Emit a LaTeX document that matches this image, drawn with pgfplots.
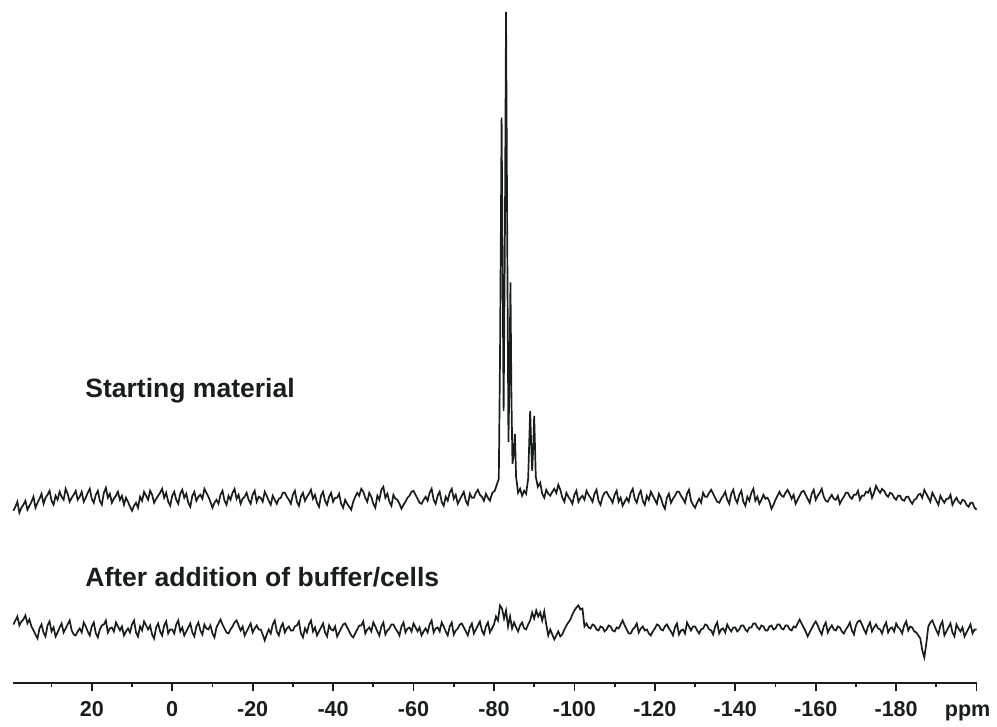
\documentclass[border=0pt]{standalone}
\usepackage{pgfplots}
\pgfplotsset{compat=1.18}
\usepackage{fontspec}
\setmainfont{Liberation Sans}
\definecolor{trace}{RGB}{24,30,28}

\begin{document}
\begin{tikzpicture}
\begin{axis}[
    scale only axis,
    width=483pt, height=342.5pt,
    xmin=-200, xmax=39.6,
    ymin=0, ymax=685,
    x dir=reverse, y dir=reverse,
    axis x line=bottom, axis y line=none,
    x axis line style={-, line width=1pt, color=trace},
    xtick={-180,-160,...,20},
    xticklabels={-180,-160,-140,-120,-100,-80,-60,-40,-20,0,20},
    minor xtick={-190,-170,...,30},
    extra x ticks={-200},
    extra x tick labels={ppm},
    extra x tick style={tick label style={xshift=-4.5pt}},
    tick align=outside,
    major tick length=4pt, minor tick length=2pt,
    every tick/.style={line width=0.9pt, color=trace},
    tick label style={font=\bfseries\fontsize{10.8}{12}\selectfont, text height=8pt, text depth=2pt, color=trace, yshift=-1pt},
    clip=false,
]
% Starting material (values in pixel rows of the original picture)
\addplot[trace, line width=0.85pt] coordinates {
(39.5,512)(39,508)(38.5,503)(38,514)(37.5,509)(37,506)(36.5,502)(36,511)(35.5,507)(35,503)
(34.5,498)(34,509)(33.5,504)(33,500)(32.5,495)(32,505)(31.5,499)(31,496)(30.5,492)(30,502)
(29.5,506)(29,497)(28.5,501)(28,493)(27.5,498)(27,501)(26.5,490)(26,495)(25.5,503)(25,499)
(24.5,496)(24,492)(23.5,501)(23,498)(22.5,493)(22,503)(21.5,499)(21,494)(20.5,490)(20,500)
(19.5,504)(19,496)(18.5,492)(18,502)(17.5,506)(17,494)(16.5,489)(16,499)(15.5,495)(15,504)
(14.5,500)(14,497)(13.5,493)(13,501)(12.5,497)(12,506)(11.5,499)(11,503)(10.5,508)(10,512)
(9.5,507)(9,504)(8.5,509)(8,498)(7.5,502)(7,493)(6.5,497)(6,501)(5.5,492)(5,496)
(4.5,504)(4,500)(3.5,497)(3,494)(2.5,490)(2,499)(1.5,494)(1,503)(0.5,507)(0,497)
(-0.5,493)(-1,501)(-1.5,505)(-2,495)(-2.5,491)(-3,499)(-3.5,495)(-4,504)(-4.5,508)(-5,497)
(-5.5,493)(-6,502)(-6.5,498)(-7,496)(-7.5,500)(-8,490)(-8.5,494)(-9,498)(-9.5,503)(-10,509)
(-10.5,504)(-11,501)(-11.5,505)(-12,496)(-12.5,492)(-13,502)(-13.5,506)(-14,497)(-14.5,501)(-15,494)
(-15.5,490)(-16,500)(-16.5,496)(-17,505)(-17.5,500)(-18,498)(-18.5,494)(-19,501)(-19.5,505)(-20,496)
(-20.5,492)(-21,503)(-21.5,498)(-22,499)(-22.5,503)(-23,493)(-23.5,497)(-24,502)(-24.5,506)(-25,497)
(-25.5,501)(-26,505)(-26.5,500)(-27,499)(-27.5,494)(-28,494)(-28.5,498)(-29,501)(-29.5,505)(-30,496)
(-30.5,492)(-31,503)(-31.5,507)(-32,498)(-32.5,494)(-33,502)(-33.5,498)(-34,495)(-34.5,491)(-35,500)
(-35.5,496)(-36,504)(-36.5,508)(-37,497)(-37.5,493)(-38,502)(-38.5,506)(-39,498)(-39.5,494)(-40,503)
(-40.5,499)(-41,499)(-41.5,495)(-42,505)(-42.5,509)(-43,501)(-43.5,505)(-44,508)(-44.5,511)(-45,503)
(-45.5,498)(-46,494)(-46.5,497)(-47,490)(-47.5,493)(-48,499)(-48.5,503)(-49,494)(-49.5,498)(-50,505)
(-50.5,509)(-51,497)(-51.5,501)(-52,491)(-52.5,488)(-53,499)(-53.5,495)(-54,503)(-54.5,507)(-55,496)
(-55.5,500)(-56,501)(-56.5,505)(-57,510)(-57.5,506)(-58,503)(-58.5,499)(-59,497)(-59.5,493)(-60,492)
(-60.5,496)(-61,500)(-61.5,504)(-62,505)(-62.5,501)(-63,498)(-63.5,502)(-64,494)(-64.5,490)(-65,501)
(-65.5,505)(-66,497)(-66.5,493)(-67,503)(-67.5,507)(-68,498)(-68.5,502)(-69,494)(-69.5,490)(-70,500)
(-70.5,496)(-71,505)(-71.5,501)(-72,497)(-72.5,493)(-73,502)(-73.5,506)(-74,495)(-74.5,499)(-75,499)
(-75.5,494)(-76,491)(-76.5,496)(-77,498)(-77.5,502)(-78,495)(-78.5,499)(-79,502)
(-79.6,494)(-80.2,492)(-80.7,486)(-81.2,480)(-81.5,360)(-81.9,118)(-82.2,300)(-82.4,412)
(-82.7,250)(-83.0,12)(-83.3,240)(-83.6,443)(-83.85,380)(-84.1,283)(-84.35,400)(-84.6,465)
(-84.9,455)(-85.2,435)(-85.5,478)(-86,494)(-86.5,490)(-87,497)(-87.5,492)(-88,495)
(-88.5,480)(-89,412)(-89.25,445)(-89.5,472)(-89.75,450)(-90,417)(-90.4,478)(-90.9,488)
(-91.5,484)(-92,495)(-92.5,499)(-93,491)(-93.5,495)(-94,497)(-94.5,493)(-95,490)(-95.5,494)(-96,486)
(-96.5,491)(-97,499)(-97.5,503)(-98,494)(-98.5,498)(-99,501)(-99.5,505)(-100,496)(-100.5,492)(-101,503)
(-101.5,499)(-102,497)(-102.5,501)(-103,492)(-103.5,496)(-104,499)(-104.5,503)(-105,495)(-105.5,491)(-106,502)
(-106.5,506)(-107,498)(-107.5,494)(-108,493)(-108.5,497)(-109,500)(-109.5,504)(-110,496)(-110.5,492)(-111,503)
(-111.5,499)(-112,507)(-112.5,503)(-113,499)(-113.5,503)(-114,494)(-114.5,490)(-115,500)(-115.5,504)(-116,496)
(-116.5,492)(-117,502)(-117.5,506)(-118,497)(-118.5,501)(-119,493)(-119.5,497)(-120,501)(-120.5,505)(-121,495)
(-121.5,499)(-122,506)(-122.5,510)(-123,499)(-123.5,495)(-124,504)(-124.5,500)(-125,497)(-125.5,493)(-126,493)
(-126.5,497)(-127,500)(-127.5,504)(-128,495)(-128.5,491)(-129,502)(-129.5,506)(-130,509)(-130.5,504)(-131,500)
(-131.5,504)(-132,494)(-132.5,498)(-133,498)(-133.5,494)(-134,491)(-134.5,495)(-135,499)(-135.5,503)(-136,504)
(-136.5,500)(-137,497)(-137.5,493)(-138,501)(-138.5,505)(-139,495)(-139.5,491)(-140,500)(-140.5,504)(-141,496)
(-141.5,492)(-142,503)(-142.5,507)(-143,498)(-143.5,502)(-144,494)(-144.5,490)(-145,502)(-145.5,498)(-146,505)
(-146.5,501)(-147,496)(-147.5,500)(-148,499)(-148.5,503)(-149,510)(-149.5,506)(-150,501)(-150.5,497)(-151,493)
(-151.5,497)(-152,498)(-152.5,494)(-153,491)(-153.5,495)(-154,500)(-154.5,496)(-155,505)(-155.5,501)(-156,497)
(-156.5,493)(-157,492)(-157.5,496)(-158,500)(-158.5,504)(-159,495)(-159.5,491)(-160,501)(-160.5,497)(-161,494)
(-161.5,490)(-162,498)(-162.5,502)(-163,503)(-163.5,499)(-164,496)(-164.5,500)(-165,501)(-165.5,497)(-166,505)
(-166.5,501)(-167,498)(-167.5,494)(-168,494)(-168.5,498)(-169,500)(-169.5,496)(-170,496)(-170.5,492)(-171,501)
(-171.5,497)(-172,497)(-172.5,493)(-173,494)(-173.5,490)(-174,499)(-174.5,494)(-175,487)(-175.5,491)(-176,494)
(-176.5,490)(-177,492)(-177.5,496)(-178,498)(-178.5,494)(-179,495)(-179.5,499)(-180,501)(-180.5,497)(-181,497)
(-181.5,501)(-182,502)(-182.5,498)(-183,498)(-183.5,502)(-184,505)(-184.5,501)(-185,500)(-185.5,496)(-186,495)
(-186.5,499)(-187,491)(-187.5,495)(-188,499)(-188.5,503)(-189,494)(-189.5,498)(-190,502)(-190.5,506)(-191,497)
(-191.5,501)(-192,504)(-192.5,500)(-193,500)(-193.5,496)(-194,506)(-194.5,502)(-195,499)(-195.5,503)(-196,505)
(-196.5,501)(-197,502)(-197.5,506)(-198,508)(-198.5,504)(-199,504)(-199.5,509)(-200,511)
};
% After addition of buffer/cells
\addplot[trace, line width=0.85pt] coordinates {
(39.5,626)(39,622)(38.5,618)(38,627)(37.5,623)(37,621)(36.5,617)(36,625)(35.5,621)(35,628)
(34.5,632)(34,636)(33.5,640)(33,630)(32.5,626)(32,634)(31.5,638)(31,627)(30.5,623)(30,633)
(29.5,629)(29,638)(28.5,634)(28,629)(27.5,625)(27,634)(26.5,630)(26,626)(25.5,622)(25,632)
(24.5,636)(24,637)(23.5,633)(23,630)(22.5,634)(22,624)(21.5,628)(21,633)(20.5,637)(20,628)
(19.5,624)(19,635)(18.5,639)(18,631)(17.5,627)(17,626)(16.5,622)(16,634)(15.5,630)(15,629)
(14.5,633)(14,624)(13.5,628)(13,632)(12.5,628)(12,637)(11.5,633)(11,630)(10.5,634)(10,626)
(9.5,622)(9,634)(8.5,638)(8,628)(7.5,632)(7,623)(6.5,627)(6,631)(5.5,627)(5,636)
(4.5,640)(4,629)(3.5,625)(3,633)(2.5,637)(2,627)(1.5,623)(1,635)(0.5,631)(0,631)
(-0.5,635)(-1,626)(-1.5,622)(-2,633)(-2.5,629)(-3,637)(-3.5,633)(-4,629)(-4.5,625)(-5,634)
(-5.5,638)(-6,628)(-6.5,624)(-7,632)(-7.5,636)(-8,626)(-8.5,630)(-9,631)(-9.5,627)(-10,635)
(-10.5,639)(-11,629)(-11.5,625)(-12,621)(-12.5,626)(-13,630)(-13.5,634)(-14,635)(-14.5,631)(-15,628)
(-15.5,624)(-16,622)(-16.5,627)(-17,632)(-17.5,628)(-18,637)(-18.5,633)(-19,629)(-19.5,625)(-20,634)
(-20.5,630)(-21,627)(-21.5,631)(-22,631)(-22.5,636)(-23,642)(-23.5,636)(-24,631)(-24.5,635)(-25,626)
(-25.5,622)(-26,633)(-26.5,637)(-27,629)(-27.5,625)(-28,634)(-28.5,630)(-29,628)(-29.5,632)(-30,632)
(-30.5,628)(-31,627)(-31.5,623)(-32,635)(-32.5,639)(-33,630)(-33.5,634)(-34,626)(-34.5,622)(-35,633)
(-35.5,629)(-36,637)(-36.5,633)(-37,629)(-37.5,625)(-38,634)(-38.5,638)(-39,627)(-39.5,631)(-40,632)
(-40.5,628)(-41,638)(-41.5,634)(-42,630)(-42.5,626)(-43,625)(-43.5,629)(-44,633)(-44.5,637)(-45,639)
(-45.5,635)(-46,631)(-46.5,627)(-47,627)(-47.5,623)(-48,635)(-48.5,631)(-49,629)(-49.5,633)(-50,624)
(-50.5,628)(-51,633)(-51.5,637)(-52,628)(-52.5,624)(-53,636)(-53.5,632)(-54,630)(-54.5,626)(-55,626)
(-55.5,630)(-56,633)(-56.5,637)(-57,628)(-57.5,624)(-58,634)(-58.5,630)(-59,629)(-59.5,633)(-60,625)
(-60.5,629)(-61,633)(-61.5,629)(-62,637)(-62.5,633)(-63,630)(-63.5,634)(-64,626)(-64.5,622)(-65,634)
(-65.5,630)(-66,629)(-66.5,633)(-67,624)(-67.5,628)(-68,633)(-68.5,637)(-69,628)(-69.5,624)(-70,636)
(-70.5,632)(-71,630)(-71.5,626)(-72,625)(-72.5,629)(-73,633)(-73.5,637)(-74,629)(-74.5,625)(-75,635)
(-75.5,631)(-76,627)(-76.5,623)(-77,632)(-77.5,636)(-78,628)(-78.5,624)(-79,634)(-79.5,630)(-80,626)
(-80.5,618)(-81,622)(-81.5,607)(-82,610)(-82.5,620)(-83,612)(-83.5,628)(-84,618)(-84.5,630)(-85,624)
(-85.5,629)(-86,633)(-86.5,627)(-87,624)(-87.5,630)(-88,631)(-88.5,626)(-89,622)(-89.5,614)(-90,620)
(-90.5,612)(-91,618)(-91.5,614)(-92,622)(-92.5,613)(-93,626)(-93.5,637)(-94,631)(-94.5,636)(-95,641)
(-95.5,637)(-96,633)(-96.5,638)(-97,636)(-97.5,631)(-98,627)(-98.5,624)(-99,621)(-99.5,616)(-100,612)
(-100.5,609)(-101,607)(-101.5,611)(-102,610)(-102.5,628)(-103,625)(-103.5,629)(-104,630)(-104.5,626)(-105,627)
(-105.5,631)(-106,632)(-106.5,628)(-107,629)(-107.5,633)(-108,631)(-108.5,627)(-109,628)(-109.5,632)(-110,633)
(-110.5,629)(-111,630)(-111.5,626)(-112,622)(-112.5,627)(-113,631)(-113.5,635)(-114,635)(-114.5,631)(-115,629)
(-115.5,625)(-116,634)(-116.5,630)(-117,628)(-117.5,632)(-118,631)(-118.5,635)(-119,637)(-119.5,633)(-120,630)
(-120.5,626)(-121,627)(-121.5,631)(-122,632)(-122.5,628)(-123,626)(-123.5,630)(-124,633)(-124.5,637)(-125,629)
(-125.5,625)(-126,636)(-126.5,632)(-127,631)(-127.5,635)(-128,624)(-128.5,628)(-129,632)(-129.5,628)(-130,628)
(-130.5,632)(-131,635)(-131.5,631)(-132,630)(-132.5,626)(-133,627)(-133.5,631)(-134,632)(-134.5,636)(-135,628)
(-135.5,624)(-136,635)(-136.5,631)(-137,630)(-137.5,634)(-138,626)(-138.5,630)(-139,633)(-139.5,629)(-140,629)
(-140.5,633)(-141,631)(-141.5,627)(-142,627)(-142.5,631)(-143,633)(-143.5,629)(-144,629)(-144.5,625)(-145,625)
(-145.5,629)(-146,631)(-146.5,627)(-147,628)(-147.5,632)(-148,632)(-148.5,628)(-149,627)(-149.5,631)(-150,630)
(-150.5,626)(-151,626)(-151.5,630)(-152,631)(-152.5,627)(-153,627)(-153.5,631)(-154,632)(-154.5,628)(-155,629)
(-155.5,625)(-156,621)(-156.5,625)(-157,629)(-157.5,633)(-158,638)(-158.5,634)(-159,630)(-159.5,626)(-160,623)
(-160.5,627)(-161,632)(-161.5,636)(-162,628)(-162.5,624)(-163,634)(-163.5,630)(-164,627)(-164.5,631)(-165,632)
(-165.5,628)(-166,629)(-166.5,633)(-167,635)(-167.5,631)(-168,628)(-168.5,624)(-169,632)(-169.5,636)(-170,627)
(-170.5,623)(-171,622)(-171.5,626)(-172,631)(-172.5,635)(-173,628)(-173.5,624)(-174,633)(-174.5,629)(-175,626)
(-175.5,630)(-176,631)(-176.5,635)(-177,628)(-177.5,624)(-178,634)(-178.5,630)(-179,629)(-179.5,633)(-180,625)
(-180.5,629)(-181,631)(-181.5,635)(-182,627)(-182.5,623)(-183,632)(-183.5,628)(-184,629)(-184.5,633)(-185,634)
(-185.5,637)(-186,640)(-186.5,652)(-187,659)(-187.5,645)(-188,628)(-188.5,624)(-189,622)(-189.5,627)(-190,632)
(-190.5,636)(-191,627)(-191.5,623)(-192,637)(-192.5,633)(-193,629)(-193.5,625)(-194,634)(-194.5,638)(-195,626)
(-195.5,630)(-196,633)(-196.5,629)(-197,638)(-197.5,634)(-198,630)(-198.5,626)(-199,635)(-199.5,631)(-200,631)
};
\node[anchor=base west, font=\bfseries\fontsize{13.3}{15}\selectfont, text=trace, inner sep=0pt]
    at (axis cs:21.7,398) {Starting material};
\node[anchor=base west, font=\bfseries\fontsize{13.3}{15}\selectfont, text=trace, inner sep=0pt]
    at (axis cs:21.7,588) {After addition of buffer/cells};
\end{axis}
\path ([xshift=-6.5pt,yshift=-20pt]current axis.south west) rectangle ([xshift=9pt]current axis.north east);
\end{tikzpicture}
\end{document}
